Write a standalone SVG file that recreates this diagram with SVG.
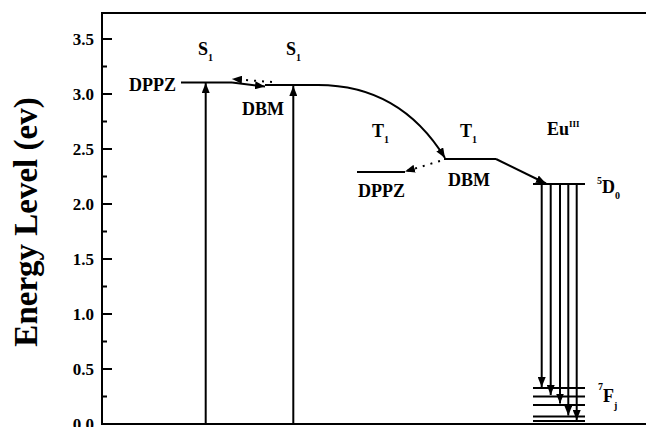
<svg xmlns="http://www.w3.org/2000/svg" width="646" height="427" viewBox="0 0 646 427">
<style>
text{font-family:"Liberation Serif","Times New Roman",serif;font-weight:bold;fill:#000}
.lbl{font-size:18px}
.tick{font-size:17px;text-anchor:end}
.sub{font-size:10px}
.ax{stroke:#000;stroke-width:2;fill:none}
.lv{stroke:#000;stroke-width:2;fill:none}
.ar{stroke:#000;stroke-width:2;fill:none;marker-end:url(#ah)}
.dt{stroke:#000;stroke-width:2;fill:none;stroke-dasharray:2 6;marker-end:url(#ah)}
</style>
<defs>
<marker id="ah" viewBox="0 0 10 8" refX="10" refY="4" markerWidth="10" markerHeight="8" markerUnits="userSpaceOnUse" orient="auto">
<path d="M0,0 L10,4 L0,8 z" fill="#000"/>
</marker>
</defs>
<rect width="646" height="427" fill="#fff"/>
<g id="axes">
<path class="ax" d="M646,13 H102 V424 H646"/>
<path class="ax" d="M102,424H112M102,369H112M102,314H112M102,259H112M102,204H112M102,149H112M102,94H112M102,39H112M102,396.5H107M102,341.5H107M102,286.5H107M102,231.5H107M102,176.5H107M102,121.5H107M102,66.5H107"/>
<text class="tick" x="94" y="430">0.0</text>
<text class="tick" x="94" y="375">0.5</text>
<text class="tick" x="94" y="320">1.0</text>
<text class="tick" x="94" y="265">1.5</text>
<text class="tick" x="94" y="210">2.0</text>
<text class="tick" x="94" y="155">2.5</text>
<text class="tick" x="94" y="100">3.0</text>
<text class="tick" x="94" y="45">3.5</text>
<text transform="translate(37,222) rotate(-90)" font-size="33" text-anchor="middle">Energy Level (ev)</text>
</g>
<g id="dppz-s1">
<line class="lv" x1="181" y1="82.5" x2="232" y2="82.5"/>
<text class="lbl" x="176" y="91" text-anchor="end">DPPZ</text>
<text class="lbl" x="198" y="55">S<tspan class="sub" dy="6">1</tspan></text>
</g>
<g id="dbm-s1">
<line class="lv" x1="265" y1="85" x2="320" y2="85"/>
<text class="lbl" x="242" y="115">DBM</text>
<text class="lbl" x="286" y="55">S<tspan class="sub" dy="6">1</tspan></text>
</g>
<g id="dppz-t1">
<line class="lv" x1="357" y1="172" x2="405" y2="172"/>
<text class="lbl" x="358" y="197">DPPZ</text>
<text class="lbl" x="372" y="137">T<tspan class="sub" dy="6">1</tspan></text>
</g>
<g id="dbm-t1">
<line class="lv" x1="444" y1="159" x2="496" y2="159"/>
<text class="lbl" x="448" y="186">DBM</text>
<text class="lbl" x="460" y="137">T<tspan class="sub" dy="6">1</tspan></text>
</g>
<g id="eu-5d0">
<line class="lv" x1="533" y1="184" x2="585" y2="184"/>
<text class="lbl" x="547" y="135">Eu<tspan font-size="9" dy="-8">III</tspan></text>
<text class="lbl" x="597" y="193"><tspan class="sub" dy="-9">5</tspan><tspan dy="9">D</tspan><tspan class="sub" dy="6">0</tspan></text>
</g>
<g id="eu-7fj">
<path class="lv" d="M533,388H585M533,396.5H585M533,405H585M533,416.5H585M533,421H585"/>
<text class="lbl" x="598" y="402"><tspan class="sub" dy="-12">7</tspan><tspan dy="12">F</tspan><tspan class="sub" dy="7">j</tspan></text>
</g>
<g id="connectors">
<line class="ar" x1="205.7" y1="424" x2="205.7" y2="83"/>
<line class="ar" x1="293.3" y1="424" x2="293.3" y2="86"/>
<line class="ar" x1="232" y1="82.5" x2="265" y2="86.5"/>
<line class="dt" x1="272" y1="82" x2="232" y2="79"/>
<path class="ar" d="M318,85 Q400,85 445,158"/>
<line class="dt" x1="440" y1="161" x2="405" y2="171.5"/>
<line class="ar" x1="496" y1="159" x2="546" y2="183.5"/>
<line class="ar" x1="541.7" y1="185" x2="541.7" y2="387"/>
<line class="ar" x1="550.7" y1="185" x2="550.7" y2="395"/>
<line class="ar" x1="560" y1="185" x2="560" y2="403.5"/>
<line class="ar" x1="568.3" y1="185" x2="568.3" y2="415.5"/>
<line class="ar" x1="576.7" y1="185" x2="576.7" y2="420"/>
</g>
</svg>
